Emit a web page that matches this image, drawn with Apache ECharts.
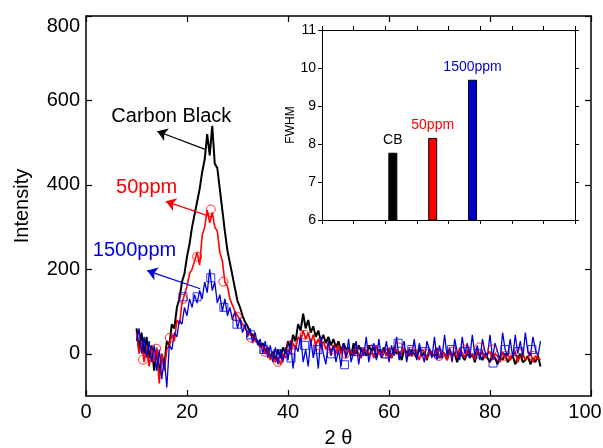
<!DOCTYPE html>
<html><head><meta charset="utf-8">
<script src="https://cdn.jsdelivr.net/npm/echarts@6/dist/echarts.min.js"></script>
<style>html,body{margin:0;padding:0;background:#fff}#c{width:603px;height:448px}</style>
</head><body><div id="c"></div>
<script>
// ---- data ----
const twoTheta = [
 10,10.5,11,11.5,12,12.5,13,13.5,14,14.5,15,15.5,16,16.5,17,17.5,18,18.5,19,19.5,
 20,20.5,21,21.5,22,22.5,23,23.5,24,24.5,25,25.5,26,26.5,27,27.5,28,28.5,29,29.5,
 30,30.5,31,31.5,32,32.5,33,33.5,34,34.5,35,35.5,36,36.5,37,37.5,38,38.5,39,39.5,
 40,40.5,41,41.5,42,42.5,43,43.5,44,44.5,45,45.5,46,46.5,47,47.5,48,48.5,49,49.5,
 50,50.5,51,51.5,52,52.5,53,53.5,54,54.5,55,55.5,56,56.5,57,57.5,58,58.5,59,59.5,
 60,60.5,61,61.5,62,62.5,63,63.5,64,64.5,65,65.5,66,66.5,67,67.5,68,68.5,69,69.5,
 70,70.5,71,71.5,72,72.5,73,73.5,74,74.5,75,75.5,76,76.5,77,77.5,78,78.5,79,79.5,
 80,80.5,81,81.5,82,82.5,83,83.5,84,84.5,85,85.5,86,86.5,87,87.5,88,88.5,89,89.5,
 90];
const carbonBlack = [
 60,10,50,0,40,-10,20,-40,10,-50, 0,-30,30,20,70,60,110,130,170,190,
 230,260,300,330,360,390,430,460,520,470, 540,450,440,390,340,290,245,215,185,155,
 125,110,90,75,65,50,45,35,30,20, 25,5,15,-10,5,-15,10,-10,15,0,
 30,10,45,30,70,55,95,60,80,50, 65,40,55,30,45,25,40,20,35,15,
 30,5,25,10,15,-5,25,0,20,5, 10,-5,20,5,15,-10,10,0,15,-5,
 10,-10,15,0,5,-15,10,5,-5,10, 0,-10,15,-5,5,-15,10,0,-5,5,
 -10,5,0,-15,10,-5,0,-20,5,-5, -15,5,-10,0,-20,5,-5,-15,0,-10,
 -20,0,-10,-25,-5,-15,0,-20,-10,-5, -25,-10,0,-20,-15,-5,-25,-10,-20,-5,
 -30];
const ppm50 = [
 50,0,30,-20,20,-30,10,-20,15,-70, 0,-40,10,20,45,30,80,70,120,140,
 160,190,200,220,240,210,280,300,340,310, 335,300,290,240,220,170,160,130,115,100,
 90,80,70,60,50,45,40,30,25,15, 20,0,10,-15,0,-20,-10,-25,0,-10,
 10,0,25,10,40,30,55,35,50,25, 45,20,35,15,30,10,25,5,20,0,
 20,0,15,-10,10,5,-5,15,0,-10, 15,5,-5,10,-10,20,0,-5,10,-5,
 15,-10,5,10,-5,0,15,-10,5,-5, 10,0,-15,10,5,-10,10,-5,0,15,
 -10,5,0,-15,10,-5,5,-10,15,0, -10,10,-5,0,-15,10,-5,5,-10,0,
 5,-15,0,-5,-20,5,-10,0,-15,-5, 5,-20,-5,0,-15,-10,5,-20,-5,-10,
 -15];
const ppm1500 = [
 30,60,0,40,-10,30,-20,20,-40,10, -60,-10,-80,20,10,50,40,80,70,110,
 90,130,110,140,120,150,130,170,145,200, 150,170,120,140,100,130,90,110,80,100,
 60,85,50,70,40,60,25,50,20,35, 0,30,-10,20,-20,15,-25,10,-20,15,
 -15,30,-35,20,5,45,-20,10,-30,35, -10,20,-35,40,0,-25,30,-5,20,-20,
 10,-30,25,-10,35,-20,5,30,-25,15, -5,40,-20,10,25,-15,35,-10,0,30,
 -20,20,-5,40,-15,10,30,-20,15,-5, 35,-15,25,0,-20,30,10,-10,40,-15,
 20,-10,45,-5,15,-20,35,5,-15,40, 0,25,-10,45,-5,20,-15,35,5,-5,
 45,-10,25,5,-15,50,10,-5,35,-10, 45,0,30,-10,50,5,-5,40,10,-5,
 30];
const ppm50MarkX = [11.3,13.9,16.6,19.2,22.0,24.7,27.2,29.9,32.7,35.4,38.0,40.7,43.3,46.0,48.7,51.3,54.0,56.6,59.3,61.9,64.6,67.2,69.9,72.5,75.2,77.9,80.5,83.2,85.8,88.5];
const ppm50MarkY = [-14,12,38,130,230,342,171,88,38,5,-19,21,45,20,10,0,5,10,0,15,5,0,-5,5,10,15,10,-5,0,-5];
const ppm1500MarkX = [19.2,22.0,24.7,27.3,29.9,32.6,35.2,37.9,40.6,43.3,45.9,48.6,51.2,53.9,56.5,59.2,61.8,64.5,67.1,69.8,72.4,75.1,77.7,80.6,83.0,85.7,88.3];
const ppm1500MarkY = [135,135,180,110,70,45,10,0,-10,20,10,0,-26,5,10,0,25,10,5,0,10,5,0,-22,10,5,10];
const xTicks = [0,20,40,60,80,100];
const yTicks = [0,200,400,600,800];
const annotations = [
  {text:'Carbon Black', at:[16.9,562], from:[23.6,484], to:[14.1,527]},
  {text:'50ppm', at:[12.0,394], from:[25.1,323], to:[15.8,361]},
  {text:'1500ppm', at:[9.6,244], from:[22.6,154], to:[12.1,197]}
];
const fwhmLabels = ['CB','50ppm','1500ppm'];
const fwhmPos = [2.24,3.5,4.76];
const fwhmValues = [7.77,8.16,9.69];

// ---- chart ----
const FONT = 'Liberation Sans, Arial, sans-serif';
const cBlack = '#000000', cRed = '#ff0000', cBlue = '#0000dd';
const chart = echarts.init(document.getElementById('c'), null, {renderer:'canvas'});

function ann(a, color){
  return {
    markLine:{silent:true, symbol:['none','arrow'], symbolSize:10, animation:false,
      label:{show:false}, lineStyle:{color:color, width:1.2, type:'solid'},
      emphasis:{disabled:true},
      data:[[{coord:a.from},{coord:a.to}]]},
    markPoint:{silent:true, symbol:'circle', symbolSize:1, animation:false,
      itemStyle:{color:'rgba(0,0,0,0)'},
      label:{show:true, position:'inside', formatter:a.text, color:color, fontSize:20, fontFamily:FONT},
      data:[{coord:a.at}]}
  };
}

const mainAxisLine = {onZero:false, lineStyle:{color:'#000', width:1.5}};
const insetAxisLine = {onZero:false, lineStyle:{color:'#000', width:1}};

const option = {
  animation:false,
  backgroundColor:'#fff',
  textStyle:{fontFamily:FONT},
  grid:[
    {left:86, right:12, top:16, bottom:52, outerBoundsMode:'none', containLabel:false},
    {left:322, right:28, top:30, bottom:228, show:true, backgroundColor:'#fff', borderWidth:0, z:5,
     outerBoundsMode:'none', containLabel:false}
  ],
  xAxis:[
    {gridIndex:0, type:'value', min:0, max:100, interval:20, position:'bottom',
     axisLine:mainAxisLine, splitLine:{show:false},
     axisTick:{inside:true, length:6, lineStyle:{color:'#000', width:1.2}},
     axisLabel:{margin:6, fontSize:20, color:'#000', fontFamily:FONT,
       formatter:v => v===100 ? '{r|100}' : String(v),
       rich:{r:{fontSize:20, color:'#000', fontFamily:FONT, padding:[0,12,0,0]}}},
     name:'2 θ', nameLocation:'middle', nameGap:32,
     nameTextStyle:{fontSize:20, color:'#000', fontFamily:FONT}},
    {gridIndex:0, type:'value', min:0, max:100, interval:20, position:'top',
     axisLine:mainAxisLine, splitLine:{show:false}, axisLabel:{show:false},
     axisTick:{inside:true, length:6, lineStyle:{color:'#000', width:1.2}}},
    {gridIndex:1, type:'value', min:0, max:8, interval:1, position:'bottom', z:6,
     axisLine:insetAxisLine, splitLine:{show:false}, axisLabel:{show:false},
     axisTick:{inside:false, length:4, lineStyle:{color:'#000'}}},
    {gridIndex:1, type:'value', min:0, max:8, interval:1, position:'top', z:6,
     axisLine:insetAxisLine, splitLine:{show:false}, axisLabel:{show:false},
     axisTick:{inside:false, length:4, lineStyle:{color:'#000'}}}
  ],
  yAxis:[
    {gridIndex:0, type:'value', min:-100, max:800, position:'left',
     axisLine:mainAxisLine, splitLine:{show:false},
     axisTick:{inside:true, length:6, customValues:yTicks, lineStyle:{color:'#000', width:1.2}},
     axisLabel:{margin:6, fontSize:20, color:'#000', fontFamily:FONT, customValues:yTicks,
       formatter:v => v===800 ? '{t|800}' : String(v),
       rich:{t:{fontSize:20, color:'#000', fontFamily:FONT, padding:[20,0,0,0]}}},
     name:'Intensity', nameLocation:'middle', nameGap:54, nameRotate:90,
     nameTextStyle:{fontSize:20, color:'#000', fontFamily:FONT}},
    {gridIndex:0, type:'value', min:-100, max:800, position:'right',
     axisLine:mainAxisLine, splitLine:{show:false}, axisLabel:{show:false},
     axisTick:{inside:true, length:6, customValues:yTicks, lineStyle:{color:'#000', width:1.2}}},
    {gridIndex:1, type:'value', min:6, max:11, interval:1, position:'left', z:6,
     axisLine:insetAxisLine, splitLine:{show:false},
     axisTick:{inside:false, length:4, lineStyle:{color:'#000'}},
     axisLabel:{margin:6, fontSize:14, color:'#000', fontFamily:FONT},
     name:'FWHM', nameLocation:'middle', nameGap:25, nameRotate:90,
     nameTextStyle:{fontSize:12, color:'#000', fontFamily:FONT}},
    {gridIndex:1, type:'value', min:6, max:11, interval:1, position:'right', z:6,
     axisLine:insetAxisLine, splitLine:{show:false}, axisLabel:{show:false},
     axisTick:{inside:false, length:4, lineStyle:{color:'#000'}}}
  ],
  series:[
    Object.assign({type:'line', name:'Carbon Black', xAxisIndex:0, yAxisIndex:0,
      showSymbol:false, symbol:'none', z:2,
      lineStyle:{color:cBlack, width:2}, itemStyle:{color:cBlack},
      data:twoTheta.map((x,i)=>[x, carbonBlack[i]])}, ann(annotations[0], cBlack)),
    Object.assign({type:'line', name:'50ppm', xAxisIndex:0, yAxisIndex:0,
      showSymbol:false, symbol:'none', z:3,
      lineStyle:{color:cRed, width:1.6}, itemStyle:{color:cRed},
      data:twoTheta.map((x,i)=>[x, ppm50[i]])}, ann(annotations[1], cRed)),
    {type:'scatter', xAxisIndex:0, yAxisIndex:0, z:4, symbol:'circle', symbolSize:9,
      itemStyle:{color:'rgba(0,0,0,0)', borderColor:cRed, borderWidth:1},
      data:ppm50MarkX.map((x,i)=>[x, ppm50MarkY[i]])},
    Object.assign({type:'line', name:'1500ppm', xAxisIndex:0, yAxisIndex:0,
      showSymbol:false, symbol:'none', z:4,
      lineStyle:{color:cBlue, width:1.3}, itemStyle:{color:cBlue},
      data:twoTheta.map((x,i)=>[x, ppm1500[i]])}, ann(annotations[2], cBlue)),
    {type:'scatter', xAxisIndex:0, yAxisIndex:0, z:4, symbol:'rect', symbolSize:8,
      itemStyle:{color:'rgba(0,0,0,0)', borderColor:cBlue, borderWidth:1},
      data:ppm1500MarkX.map((x,i)=>[x, ppm1500MarkY[i]])},
    {type:'bar', xAxisIndex:2, yAxisIndex:2, z:6, barWidth:9, clip:true,
      data:fwhmPos.map((p,i)=>({value:[p, fwhmValues[i]],
        itemStyle:{color:[cBlack, cRed, '#0000cc'][i], borderColor:'#000', borderWidth:1},
        label:{color:[cBlack, cRed, cBlue][i]}})),
      label:{show:true, position:'top', distance:6, fontSize:14, fontFamily:FONT,
        formatter:p => fwhmLabels[p.dataIndex]}}
  ]
};
chart.setOption(option);
</script></body></html>
